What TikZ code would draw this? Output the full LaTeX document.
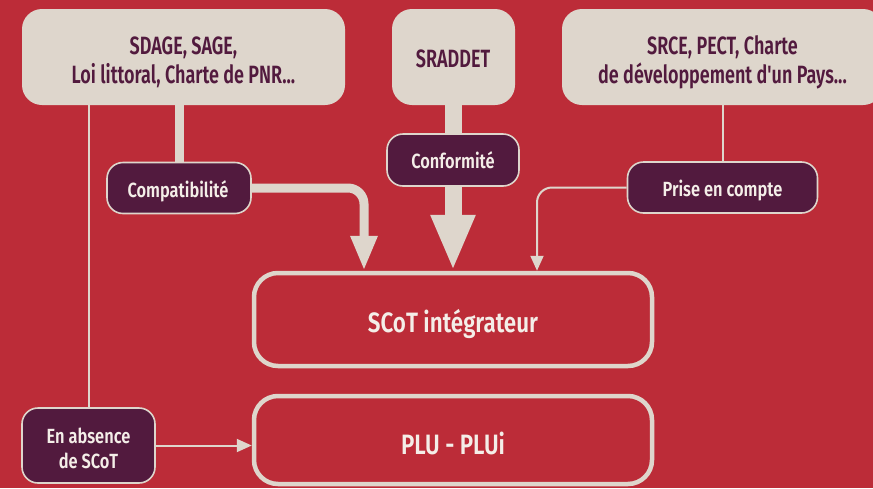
\documentclass[tikz,border=0pt]{standalone}
\usepackage{fontspec}
\setmainfont{Fira Sans}[UprightFont=* SemiBold, FakeStretch=0.8]
\newfontfamily\srcfont{Fira Sans}[UprightFont=* SemiBold, FakeStretch=0.72]
\usetikzlibrary{arrows.meta,backgrounds}

\definecolor{bgred}{RGB}{188,44,56}
\definecolor{sand}{RGB}{222,214,204}
\definecolor{plum}{RGB}{82,26,62}
\definecolor{ivory}{RGB}{244,238,232}

\begin{document}
\begin{tikzpicture}[x=1pt,y=-1pt,
  source/.style={fill=sand, rounded corners=20pt, inner sep=0pt},
  tag/.style={fill=plum, draw=sand, line width=1.6pt, rounded corners=16pt, inner sep=0pt},
  level/.style={draw=sand, line width=4.5pt, rounded corners=24pt, inner sep=0pt},
  srctext/.style={text=plum, font=\srcfont\fontsize{25}{29}\selectfont, anchor=base, inner sep=0pt},
  tagtext/.style={text=ivory, font=\fontsize{20.5}{25}\selectfont, anchor=base, inner sep=0pt},
  lvltext/.style={text=ivory, font=\fontsize{28}{32}\selectfont, anchor=base, inner sep=0pt},
  thin/.style={draw=sand, line width=2pt},
  thinarrow/.style={thin, -{Triangle[length=15pt,width=13pt]}},
]
\useasboundingbox (0,0) rectangle (873,488);
\clip (0,0) rectangle (873,488);

% source documents
\node[source, minimum width=323pt, minimum height=96pt] (sdage) at (183.5,57) {};
\node[source, minimum width=123pt, minimum height=96pt] (sraddet) at (453.5,57) {};
\node[source, minimum width=321pt, minimum height=96pt] (srce) at (722.5,57) {};
\node[srctext] (sdageA) at (183.5,54) {SDAGE, SAGE,};
\node[srctext] (sdageB) at (183.5,83) {Loi littoral, Charte de PNR...};
\node[srctext] (sraddetA) at (453,67) {SRADDET};
\node[srctext] (srceA) at (722.5,54) {SRCE, PECT, Charte};
\node[srctext] (srceB) at (722.5,83) {de développement d\symbol{39}un Pays...};

% relation tags
\node[tag, minimum width=144pt, minimum height=51pt] (compat) at (179,188) {};
\node[tag, minimum width=132pt, minimum height=52pt] (conf) at (453,160) {};
\node[tag, minimum width=190pt, minimum height=51pt] (prise) at (722.5,187.5) {};
\node[tag, minimum width=133pt, minimum height=75pt] (absence) at (88.5,445.5) {};
\node[tagtext] (compatT) at (178,197) {Compatibilité};
\node[tagtext] (confT) at (453,168) {Conformité};
\node[tagtext] (priseT) at (722.5,196) {Prise en compte};
\node[tagtext] (absA) at (88.5,443) {En absence};
\node[tagtext] (absB) at (88.5,468) {de SCoT};

% planning levels
\node[level, minimum width=398pt, minimum height=93pt] (scot) at (453,319.5) {};
\node[level, minimum width=398pt, minimum height=88pt] (plu) at (453,440) {};
\node[lvltext] (scotT) at (453,332) {SCoT intégrateur};
\node[lvltext] (pluT) at (453,454) {PLU - PLUi};

\begin{pgfonlayer}{background}
  \fill[bgred] (0,0) rectangle (873,488);
  % compatibility
  \draw[draw=sand, line width=9pt] (compat.north) -- (compat.north |- sdage.south);
  \draw[draw=sand, line width=9pt, rounded corners=16pt,
        -{Triangle[length=35pt,width=25pt]}]
    (compat.east) -| ([xshift=-89pt]scot.north);
  % conformity
  \draw[draw=sand, line width=17pt] (conf.north) -- (conf.north |- sraddet.south);
  \draw[draw=sand, line width=17pt, -{Triangle[length=56pt,width=41pt]}]
    (conf.south) -- (scot.north);
  % taking into account
  \draw[thin] (prise.north) -- (prise.north |- srce.south);
  \draw[thinarrow, rounded corners=15pt] (prise.west) -| ([xshift=84pt]scot.north);
  % without SCoT
  \draw[thin] (absence.north) -- (absence.north |- sdage.south);
  \draw[thinarrow] (absence.east) -- (absence.east -| plu.west);
\end{pgfonlayer}
\end{tikzpicture}
\end{document}
